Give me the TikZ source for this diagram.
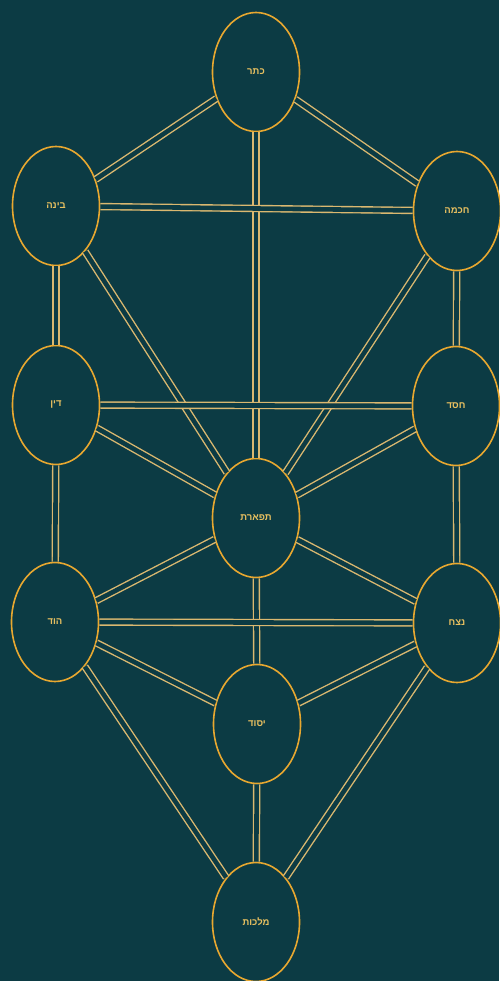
\documentclass[tikz,border=0pt]{standalone}
\usepackage{fontspec}
\newfontfamily\hebfont[Script=Hebrew]{Liberation Sans}
\TeXXeTstate=1
\usetikzlibrary{shapes.geometric}
\definecolor{bg}{RGB}{12,59,68}
\definecolor{ringgold}{RGB}{232,168,48}
\definecolor{linegold}{RGB}{218,184,112}
\definecolor{textgold}{RGB}{232,192,96}
\tikzset{
  sefira/.style={ellipse, draw=ringgold, line width=1.6pt, fill=bg,
    minimum width=87pt, minimum height=119pt, inner sep=0pt,
    text=textgold, font=\hebfont\bfseries\fontsize{9.5}{10}\selectfont},
  path/.style={draw=linegold, line width=1.4pt, double=bg, double distance=4.6pt}
}
\newcommand{\heb}[1]{\beginR #1\endR}
\begin{document}
\begin{tikzpicture}[x=1pt,y=-1pt]
\fill[bg] (0,0) rectangle (499,981);
\useasboundingbox (0,0) rectangle (499,981);
\node[sefira] (keter) at (256,72) {\heb{כתר}};
\node[sefira] (binah) at (56,206) {\heb{בינה}};
\node[sefira] (chokhmah) at (457,211) {\heb{חכמה}};
\node[sefira] (din) at (56,405) {\heb{דין}};
\node[sefira] (chesed) at (456,406) {\heb{חסד}};
\node[sefira] (tiferet) at (256,518) {\heb{תפארת}};
\node[sefira] (hod) at (55,622) {\heb{הוד}};
\node[sefira] (netzach) at (457,623) {\heb{נצח}};
\node[sefira] (yesod) at (257,724) {\heb{יסוד}};
\node[sefira] (malkhut) at (256,922) {\heb{מלכות}};
% the 22 paths
\draw[path] (keter) -- (binah);
\draw[path] (keter) -- (chokhmah);
\draw[path] (keter) -- (tiferet);
\draw[path] (binah) -- (chokhmah);
\draw[path] (binah) -- (din);
\draw[path] (binah) -- (tiferet);
\draw[path] (chokhmah) -- (chesed);
\draw[path] (chokhmah) -- (tiferet);
\draw[path] (din) -- (chesed);
\draw[path] (din) -- (tiferet);
\draw[path] (din) -- (hod);
\draw[path] (chesed) -- (tiferet);
\draw[path] (chesed) -- (netzach);
\draw[path] (tiferet) -- (hod);
\draw[path] (tiferet) -- (netzach);
\draw[path] (tiferet) -- (yesod);
\draw[path] (hod) -- (netzach);
\draw[path] (hod) -- (yesod);
\draw[path] (hod) -- (malkhut);
\draw[path] (netzach) -- (yesod);
\draw[path] (netzach) -- (malkhut);
\draw[path] (yesod) -- (malkhut);
\end{tikzpicture}
\end{document}
